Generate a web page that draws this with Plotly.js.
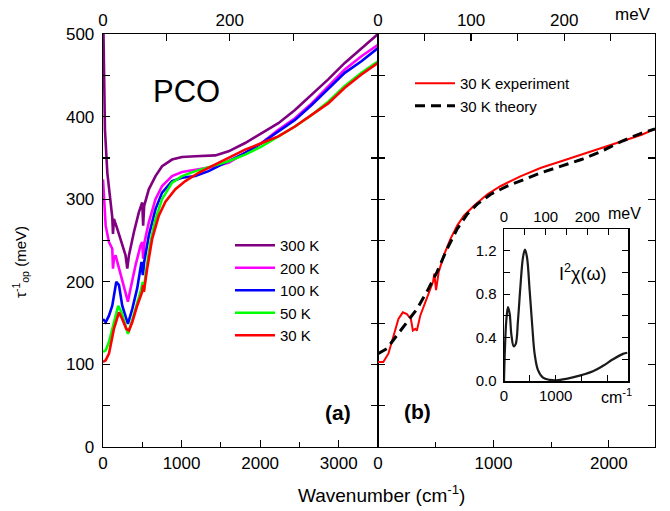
<!DOCTYPE html>
<html>
<head>
<meta charset="utf-8">
<script src="https://cdn.plot.ly/plotly-3.0.1.min.js"></script>
<style>html,body{margin:0;padding:0;background:#fff;}#plot{width:670px;height:511px;}</style>
</head>
<body>
<div id="plot"></div>
<script>
// ---------- Data (panel a) ----------
const wn300 = [6,15,25,55,97,118,127,139,182,245,287,309,330,393,456,499,511,524,583,668,752,879,1006,1175,1429,1598,1809,2020,2232,2443,2655,2866,3077,3289,3500];
const tau300 = [500,440,384,332,296,278,258,276,264,244,232,216,232,260,284,296,268,292,312,328,340,348,351,352,353,358,368,380,392,408,426,445,465,483,500];
const wn200 = [0,34,76,118,127,139,160,203,266,317,351,414,478,499,511,528,583,668,752,879,1006,1175,1386,1598,1809,2020,2232,2443,2655,2866,3077,3289,3500];
const tau200 = [324,268,248,240,216,228,232,216,196,176,192,220,244,248,228,248,272,300,316,328,333,336,339,344,356,368,384,398,416,437,457,473,487];
const wn100 = [0,34,76,118,169,203,245,317,372,435,490,507,524,583,668,752,879,1006,1175,1344,1598,1809,2020,2232,2443,2655,2866,3077,3289,3500];
const tau100 = [155,151,159,171,200,196,171,149,167,192,224,208,224,256,288,308,322,326,328,334,346,356,368,382,396,414,433,453,467,483];
const wn50 = [0,34,76,139,194,237,287,317,351,414,478,507,520,541,604,668,752,879,1006,1175,1386,1598,1809,2020,2232,2443,2655,2866,3077,3289,3500];
const tau50 = [115,117,127,151,171,163,147,137,147,167,188,200,188,208,248,276,300,320,328,334,340,346,354,364,376,388,402,418,437,453,467];
const wn30 = [0,34,76,139,203,245,296,330,372,435,499,510,520,562,626,710,795,921,1048,1217,1386,1598,1809,2020,2232,2443,2655,2866,3077,3289,3500];
const tau30 = [103,105,113,143,163,155,143,141,151,171,188,196,188,216,252,280,297,312,322,332,340,350,360,368,376,388,402,416,435,451,465];

// ---------- Data (panel b) ----------
const wnExp = [0,46,90,134,177,215,250,285,302,323,337,366,424,477,488,503,526,570,628,686,744,831,948,1064,1238,1413,1587,1762,1936,2110,2285,2400];
const tauExp = [103,103,113,135,155,163,161,155,141,143,141,159,180,200,210,190,212,232,252,268,280,292,306,316,328,338,346,354,362,370,378,385];
const wnTh = [0,76,163,250,337,424,512,599,686,773,860,977,1122,1267,1413,1587,1762,1936,2110,2285,2400];
const tauTh = [113,119,135,151,167,188,212,240,264,282,294,306,316,324,332,340,348,358,370,380,385];

// ---------- Data (inset) ----------
const wnIn = [0,19,45,77,110,142,187,226,271,316,368,406,445,497,548,593,658,755,884,1013,1206,1464,1722,1916,2109,2303,2387];
const a2f = [0,0.31,0.56,0.68,0.62,0.43,0.32,0.34,0.56,0.86,1.14,1.21,1.14,0.83,0.50,0.25,0.10,0.03,0.01,0.006,0.02,0.05,0.09,0.14,0.20,0.25,0.26];

// ---------- Labels ----------
const namesA = ['300 K','200 K','100 K','50 K','30 K'];
const colorsA = ['#800080','#ff00ff','#0000ff','#00ff00','#ff0000'];
const namesB = ['30 K experiment','30 K theory'];
const topATickVals = [0,100,200,300];
const topATickText = ['0','','200',''];
const insetXTickVals = [0,500,1000,1500,2000];
const insetXTickText = ['0','','1000','',''];
const CM_PER_MEV = 8.0655;

const seriesA = [[wn300,tau300],[wn200,tau200],[wn100,tau100],[wn50,tau50],[wn30,tau30]];
const traces = [];
seriesA.forEach((s,i)=>{
  traces.push({x:s[0], y:s[1], type:'scatter', mode:'lines', name:namesA[i],
    line:{color:colorsA[i], width:2.6}, xaxis:'x', yaxis:'y', legend:'legend', hoverinfo:'skip'});
});
traces.push({x:wnExp, y:tauExp, type:'scatter', mode:'lines', name:namesB[0],
  line:{color:'#ff0000', width:2}, xaxis:'x2', yaxis:'y2', legend:'legend2', hoverinfo:'skip'});
traces.push({x:wnTh, y:tauTh, type:'scatter', mode:'lines', name:namesB[1],
  line:{color:'#000000', width:3, dash:'10px,6px'}, xaxis:'x2', yaxis:'y2', legend:'legend2', hoverinfo:'skip'});
traces.push({x:wnIn, y:a2f, type:'scatter', mode:'lines', name:'a2f', showlegend:false,
  line:{color:'#1a1a1a', width:2.2, shape:'spline'}, xaxis:'x4', yaxis:'y4', hoverinfo:'skip'});
// invisible companions so the meV (top) axes are drawn
const toMeV = (arr)=>arr.map(v=>v/CM_PER_MEV);
traces.push({x:toMeV(wn30), y:tau30, type:'scatter', mode:'lines', showlegend:false, line:{color:'rgba(0,0,0,0)', width:0}, xaxis:'x3', yaxis:'y', hoverinfo:'skip'});
traces.push({x:toMeV(wnExp), y:tauExp, type:'scatter', mode:'lines', showlegend:false, line:{color:'rgba(0,0,0,0)', width:0}, xaxis:'x6', yaxis:'y2', hoverinfo:'skip'});
traces.push({x:toMeV(wnIn), y:a2f, type:'scatter', mode:'lines', showlegend:false, line:{color:'rgba(0,0,0,0)', width:0}, xaxis:'x5', yaxis:'y4', hoverinfo:'skip'});

const F = 'Arial, "Liberation Sans", sans-serif';
const tickFont = {family:F, size:17, color:'#000'};
const insetFont = {family:F, size:15, color:'#000'};
const ax = (o)=>Object.assign({showgrid:false, zeroline:false, showline:true, linecolor:'#000', linewidth:1.3,
  ticks:'inside', ticklen:7, tickwidth:1.2, tickcolor:'#000', tickfont:tickFont}, o);

const xa0=103/670, xa1=378/670, xb1=655/670;
const y0=(511-447)/511, y1=(511-34)/511;
const ix0=504/670, ix1=628/670, iy0=(511-381)/511, iy1=(511-229)/511;

const ann = (text, px, py, size, extra)=>Object.assign({text:text, x:px/670, y:(511-py)/511, xref:'paper', yref:'paper',
  xanchor:'center', yanchor:'middle', showarrow:false, font:{family:F, size:size, color:'#000'}}, extra||{});

const layout = {
  width:670, height:511,
  margin:{l:0,r:0,t:0,b:0},
  paper_bgcolor:'#fff', plot_bgcolor:'rgba(0,0,0,0)',
  showlegend:true,
  xaxis: ax({domain:[xa0,xa1], range:[0,3500], dtick:1000, anchor:'y', minor:{dtick:500, ticks:'inside', ticklen:5, tickcolor:'#000'}}),
  yaxis: ax({domain:[y0,y1], range:[0,500], dtick:100, anchor:'x', mirror:'ticks', ticklabelstandoff:4, minor:{dtick:50, ticks:'inside', ticklen:7, tickcolor:'#000'}}),
  xaxis3: ax({overlaying:'x', side:'top', anchor:'y', range:[0,3500/CM_PER_MEV], tickmode:'array', tickvals:topATickVals, ticktext:topATickText}),
  xaxis2: ax({domain:[xa1,xb1], range:[0,2400], dtick:1000, anchor:'y2', minor:{dtick:500, ticks:'inside', ticklen:5, tickcolor:'#000'}}),
  yaxis2: ax({domain:[y0,y1], range:[0,500], dtick:100, anchor:'x2', mirror:'ticks', showticklabels:false, minor:{dtick:50, ticks:'inside', ticklen:7, tickcolor:'#000'}}),
  xaxis6: ax({overlaying:'x2', side:'top', anchor:'y2', range:[0,2400/CM_PER_MEV], dtick:100, minor:{dtick:50, ticks:'inside', ticklen:7, tickcolor:'#000'}}),
  xaxis4: ax({domain:[ix0,ix1], range:[0,2400], anchor:'y4', tickmode:'array', tickvals:insetXTickVals, ticktext:insetXTickText, tickfont:insetFont, ticklen:6, linewidth:1.5}),
  yaxis4: ax({domain:[iy0,iy1], range:[0,1.4], dtick:0.4, tickformat:'.1f', anchor:'x4', mirror:'ticks', tickfont:insetFont, ticklen:6, linewidth:1.5, ticklabelstandoff:3, minor:{dtick:0.2, ticks:'inside', ticklen:6, tickcolor:'#000'}}),
  xaxis5: ax({overlaying:'x4', side:'top', anchor:'y4', range:[0,2400/CM_PER_MEV], dtick:100, tickfont:insetFont, ticklen:6, linewidth:1.5, minor:{dtick:50, ticks:'inside', ticklen:6, tickcolor:'#000'}}),
  legend:{x:230/670, y:(511-229)/511, xanchor:'left', yanchor:'top', bgcolor:'rgba(0,0,0,0)', borderwidth:0,
    font:{family:F, size:15, color:'#000'}, tracegroupgap:0, itemwidth:40},
  legend2:{x:410/670, y:(511-67)/511, xanchor:'left', yanchor:'top', bgcolor:'rgba(0,0,0,0)', borderwidth:0,
    font:{family:F, size:15, color:'#000'}, itemwidth:40},
  annotations:[
    ann('PCO', 186.7, 91.7, 31),
    ann('<b>(a)</b>', 337.7, 412.7, 21),
    ann('<b>(b)</b>', 417.7, 411.7, 21),
    ann('I<sup>2</sup>χ(ω)', 583, 272, 18),
    ann('cm<sup>-1</sup>', 616, 396, 16),
    ann('meV', 624, 213, 16),
    ann('meV', 633, 14, 17),
    ann('Wavenumber (cm<sup>-1</sup>)', 381, 494, 19),
    ann('τ<sup>-1</sup><sub>op</sub> (meV)', 20, 262, 15, {textangle:-90})
  ]
};

Plotly.newPlot('plot', traces, layout, {staticPlot:true, displayModeBar:false});
</script>
</body>
</html>
